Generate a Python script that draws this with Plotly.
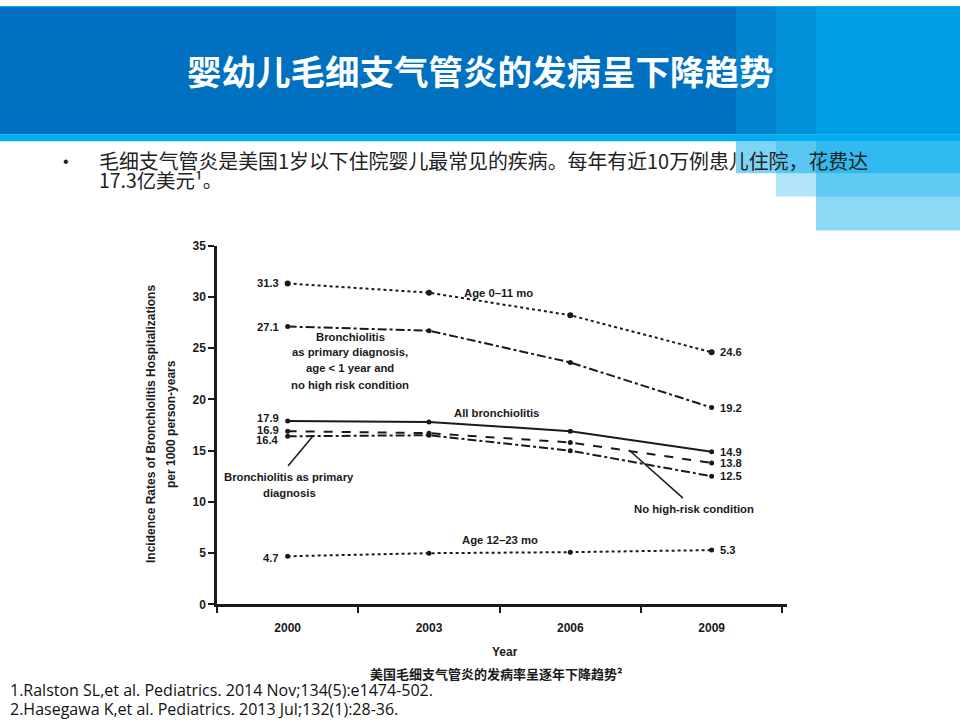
import plotly.graph_objects as go

# ---- data ----
years = [2000, 2003, 2006, 2009]
age_0_11 = [31.3, 30.4, 28.2, 24.6]
primary_lt1_norisk = [27.1, 26.7, 23.6, 19.2]
all_bronch = [17.9, 17.8, 16.9, 14.9]
primary_dx = [16.9, 16.7, 15.8, 13.8]
no_high_risk = [16.4, 16.5, 15.0, 12.5]
age_12_23 = [4.7, 5.0, 5.1, 5.3]

year_ticks = [2000, 2003, 2006, 2009]
between_ticks = [1998.5, 2001.5, 2004.5, 2007.5, 2010.5]

title_txt = "婴幼儿毛细支气管炎的发病呈下降趋势"
bullet_l1 = "毛细支气管炎是美国1岁以下住院婴儿最常见的疾病。每年有近10万例患儿住院，花费达"
bullet_l2 = "17.3亿美元¹。"
caption = "美国毛细支气管炎的发病率呈逐年下降趋势²"
refs = ["1.Ralston SL,et al. Pediatrics. 2014 Nov;134(5):e1474-502.",
        "2.Hasegawa K,et al. Pediatrics. 2013 Jul;132(1):28-36."]

W, H = 960, 720
# the page photo comes out slightly squeezed / shifted vertically, undo it
Y_OFF, Y_SCALE = 9.1, 0.978


def px(x):
    return x / W


def py(y):
    return 1 - ((y - Y_OFF) / Y_SCALE) / H


INK = "#1a1a1a"
ARIAL = "Liberation Sans, Arial, sans-serif"
CJK = "Noto Sans CJK SC, sans-serif"

# values, dash style, marker size, left label nudge (px)
series = [
    (age_0_11, "dot", 6, 0),
    (primary_lt1_norisk, "dashdot", 5, 0),
    (all_bronch, "solid", 5, 2.5),
    (primary_dx, "dash", 5, 1.5),
    (no_high_risk, "dashdot", 5, -4),
    (age_12_23, "dot", 5, -2),
]

fig = go.Figure()
for vals, dash, msize, _ in series:
    fig.add_trace(go.Scatter(
        x=years, y=vals, mode="lines+markers",
        line=dict(color=INK, width=2, dash=dash),
        marker=dict(color=INK, size=msize),
        showlegend=False, hoverinfo="skip"))

val_font = dict(family=ARIAL, size=11.2, color=INK, weight="bold")
ann = []
for vals, _, _, ls in series:
    ann.append(dict(x=years[0], y=vals[0], xref="x", yref="y", text=f"{vals[0]}",
                    xanchor="right", yanchor="middle", xshift=-7, yshift=ls,
                    showarrow=False, font=val_font))
    ann.append(dict(x=years[-1], y=vals[-1], xref="x", yref="y", text=f"{vals[-1]}",
                    xanchor="left", yanchor="middle", xshift=6,
                    showarrow=False, font=val_font))

lab_font = dict(family=ARIAL, size=11.3, color=INK, weight="bold")


def label(x, y, text, anchor="center", font=lab_font, angle=0):
    ann.append(dict(x=px(x), y=py(y), xref="paper", yref="paper", text=text,
                    xanchor=anchor, yanchor="middle", showarrow=False,
                    font=font, align="center", textangle=angle))


label(498, 294, "Age 0–11 mo")
label(350, 338, "Bronchiolitis")
label(350, 353, "as primary diagnosis,")
label(350, 369, "age &lt; 1 year and")
label(350, 386, "no high risk condition")
label(496, 414, "All bronchiolitis")
label(289, 478, "Bronchiolitis as primary")
label(289, 494, "diagnosis")
label(694, 510, "No high-risk condition")
label(500, 541, "Age 12–23 mo")

ax_font = dict(family=ARIAL, size=12, color=INK, weight="bold")
label(151, 425, "Incidence Rates of Bronchiolitis Hospitalizations", font=ax_font, angle=-90)
label(171, 425, "per 1000 person-years", font=ax_font, angle=-90)
label(505, 652, "Year", font=ax_font)
label(496, 674, caption, font=dict(family=CJK, size=13, color=INK, weight="bold"))

# slide texts
label(480, 72, title_txt, font=dict(family=CJK, size=34.5, color="white", weight="bold"))
label(66, 163, "•", font=dict(family=ARIAL, size=16, color="#222"))
label(97, 162, bullet_l1, anchor="left", font=dict(family=CJK, size=19.9, color="#222"))
label(97, 181, bullet_l2, anchor="left", font=dict(family=CJK, size=19.4, color="#222"))
for i, r in enumerate(refs):
    label(8, 690 + 19.5 * i, r, anchor="left",
          font=dict(family="Open Sans, sans-serif", size=16, color="#111"))


def rect(x0, y0, x1, y1, color):
    return dict(type="rect", xref="paper", yref="paper", x0=px(x0), x1=px(x1),
                y0=py(y1), y1=min(py(y0), 1), fillcolor=color, line_width=0, layer="below")


shapes = [
    rect(0, 0, 960, 8, "#00B0F0"),
    rect(0, 8, 960, 136, "#0070C0"),
    rect(736, 8, 776, 136, "#0082CC"),
    rect(776, 8, 816, 136, "#0090D8"),
    rect(816, 8, 960, 136, "#00A0E4"),
    rect(0, 136, 960, 143, "#00AEEF"),
    rect(736, 143, 960, 175, "rgba(0,170,235,0.5)"),
    rect(776, 143, 960, 198, "rgba(0,170,235,0.3)"),
    rect(816, 143, 960, 232, "rgba(0,170,235,0.45)"),
    # leader lines
    dict(type="line", xref="paper", yref="paper", x0=px(288), y0=py(467),
         x1=px(313), y1=py(437), line=dict(color=INK, width=1.5)),
    dict(type="line", xref="paper", yref="paper", x0=px(629), y0=py(451),
         x1=px(683), y1=py(499), line=dict(color=INK, width=1.5)),
]

tick_font = dict(family=ARIAL, size=12, color=INK, weight="bold")
fig.update_layout(
    width=W, height=H,
    margin=dict(l=0, r=0, t=0, b=0),
    paper_bgcolor="white", plot_bgcolor="white",
    showlegend=False,
    annotations=ann, shapes=shapes,
    xaxis=dict(domain=[px(217), px(787)], range=[1998.5, 2010.6],
               tickvals=year_ticks, ticks="outside", ticklen=10, tickcolor="rgba(0,0,0,0)",
               showline=True, linecolor=INK, linewidth=2.5, showgrid=False, zeroline=False,
               tickfont=tick_font,
               minor=dict(tickmode="array", tickvals=between_ticks, ticks="outside",
                          ticklen=6, tickwidth=2, tickcolor=INK, showgrid=False)),
    yaxis=dict(domain=[py(605), py(247)], range=[0, 35], dtick=5,
               ticks="outside", ticklen=6, tickwidth=2, tickcolor=INK,
               showline=True, linecolor=INK, linewidth=2.5, showgrid=False, zeroline=False,
               tickfont=tick_font),
)

fig.write_html("out.html", config={"displayModeBar": False},
               post_script="document.body.style.margin='0';"
                           "document.body.style.background='#00B0F0';")
